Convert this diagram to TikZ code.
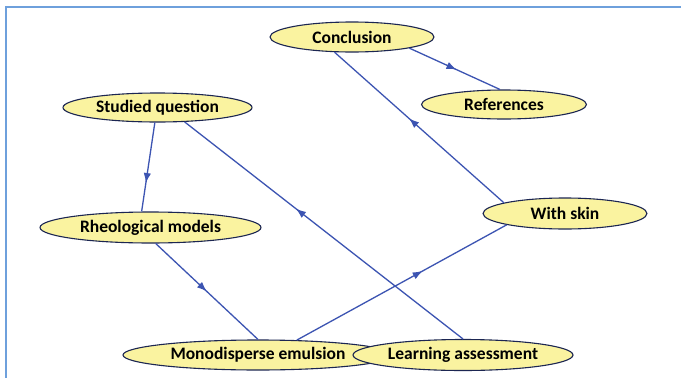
\documentclass[tikz,border=0pt]{standalone}
\usepackage{fontspec}
\setmainfont{Carlito}
\usetikzlibrary{shapes.geometric,arrows.meta,decorations.markings}
\definecolor{edgeblue}{RGB}{60,84,178}
\definecolor{nodefill}{RGB}{250,243,160}
\definecolor{nodeline}{RGB}{28,38,82}
\definecolor{framecol}{RGB}{110,160,220}
\tikzset{
  topic/.style={ellipse, draw=nodeline, line width=1.1pt, fill=nodefill, inner sep=0pt,
    font=\fontsize{17.5}{20}\selectfont\bfseries, text=black},
  conn/.style={draw=edgeblue, line width=1.3pt},
  midarrow/.style={postaction={decorate}, decoration={markings,
    mark=at position #1 with {\arrow[edgeblue]{Latex[length=10pt,width=7.5pt]}}}}
}
\begin{document}
\begin{tikzpicture}[x=1pt,y=-1pt]
\useasboundingbox (0,0) rectangle (681,378);
\fill[white] (0,0) rectangle (681,378);
\draw[framecol, line width=1.5pt] (6,378) -- (6,7) -- (681,7);

\node[topic, minimum width=164pt, minimum height=30pt] (concl) at (352,37) {Conclusion};
\node[topic, minimum width=165pt, minimum height=29pt] (refs) at (504,104.5) {References};
\node[topic, minimum width=189pt, minimum height=29pt] (studied) at (157.5,107.5) {Studied question};
\node[topic, minimum width=221pt, minimum height=31pt] (rheo) at (150.5,227.5) {Rheological models};
\node[topic, minimum width=164pt, minimum height=31pt] (skin) at (565,213.5) {With skin};
\node[topic, minimum width=270pt, minimum height=30pt] (mono) at (258,355) {Monodisperse emulsion};
\node[topic, minimum width=220pt, minimum height=31pt] (learn) at (463,355) {Learning assessment};

\path[conn, midarrow=0.68] (studied.-100) -- (rheo.119);
\path[conn, midarrow=0.6] (learn.90) -- (studied.-28.8);
\path[conn, midarrow=0.5] (rheo.-72) -- (mono.90);
\path[conn, midarrow=0.6] (mono.21) -- (skin.-169);
\path[conn, midarrow=0.56] (skin.170) -- (concl.-139);
\path[conn, midarrow=0.52] (concl.-11) -- (refs.105);
\end{tikzpicture}
\end{document}
